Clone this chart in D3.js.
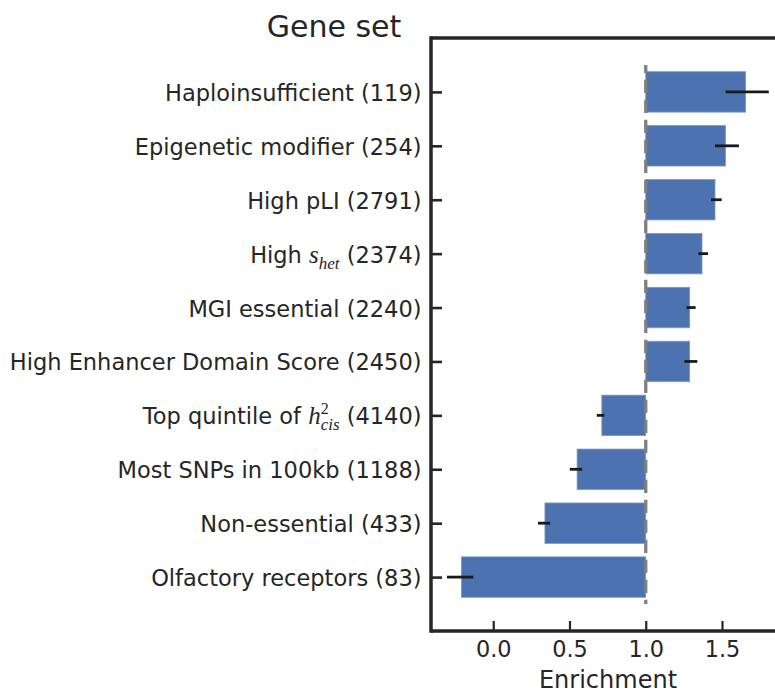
<!DOCTYPE html>
<html>
<head>
<meta charset="utf-8">
<script src="https://cdn.jsdelivr.net/npm/d3@7/dist/d3.min.js"></script>
<style>
  html, body { margin: 0; padding: 0; background: #fff; }
  svg { display: block; font-family: "DejaVu Sans", sans-serif; }
</style>
</head>
<body>
<svg id="chart" width="775" height="692"></svg>
<script>
// ---- data ----
const setNames = ["Haploinsufficient", "Epigenetic modifier", "High pLI", "High $s_{het}$",
  "MGI essential", "High Enhancer Domain Score", "Top quintile of $h^2_{cis}$",
  "Most SNPs in 100kb", "Non-essential", "Olfactory receptors"];
const setSizes = [119, 254, 2791, 2374, 2240, 2450, 4140, 1188, 433, 83];
const enrichment = [1.655, 1.523, 1.454, 1.369, 1.288, 1.288, 0.712, 0.550, 0.339, -0.209];
const ciLow  = [1.523, 1.454, 1.428, 1.345, 1.267, 1.253, 0.679, 0.502, 0.293, -0.303];
const ciHigh = [1.807, 1.611, 1.498, 1.408, 1.327, 1.338, 0.729, 0.583, 0.373, -0.131];
const xTicks = [0, 0.5, 1.0, 1.5];
const xTickLabels = ["0.0", "0.5", "1.0", "1.5"];
const refValue = 1.0;

// ---- layout ----
const svg = d3.select("#chart");
const pLeft = 431, pRight = 785, pTop = 38, pBottom = 631;
const ink = "#262626";

const x = d3.scaleLinear().domain([-0.408, 1.913]).range([pLeft, pRight]);
const y = d3.scaleLinear().domain([-1, setNames.length]).range([pTop, pBottom]);
const barH = (y(1) - y(0)) * 0.75;

const rows = setNames.map((n, i) => ({i, name: n, size: setSizes[i], v: enrichment[i], lo: ciLow[i], hi: ciHigh[i]}));

// bars
svg.append("g").selectAll("rect").data(rows).join("rect")
  .attr("x", d => x(Math.min(refValue, d.v)))
  .attr("width", d => Math.abs(x(d.v) - x(refValue)))
  .attr("y", d => y(d.i) - barH / 2)
  .attr("height", barH)
  .attr("fill", "#4c72b0")
  .attr("stroke", "#7d98c8")
  .attr("stroke-width", 0.8);

// dashed reference line
svg.append("line")
  .attr("x1", x(refValue)).attr("x2", x(refValue))
  .attr("y1", y(-0.5)).attr("y2", y(setNames.length - 0.5))
  .attr("stroke", "#808080").attr("stroke-width", 3.3)
  .attr("stroke-dasharray", "13.3,6.7").attr("stroke-dashoffset", 5.3);

// error bars
svg.append("g").selectAll("line").data(rows).join("line")
  .attr("x1", d => x(d.lo)).attr("x2", d => x(d.hi))
  .attr("y1", d => y(d.i)).attr("y2", d => y(d.i))
  .attr("stroke", "#1a1a1a").attr("stroke-width", 2.8);

// axes (ticks pointing inward)
const xAxis = d3.axisBottom(x).tickValues(xTicks).tickFormat((d, i) => xTickLabels[i])
  .tickSizeInner(-10).tickSizeOuter(0);
const gx = svg.append("g").attr("transform", `translate(0,${pBottom})`).call(xAxis);
gx.select(".domain").remove();
gx.selectAll(".tick line").attr("stroke", ink).attr("stroke-width", 2.2);
gx.selectAll(".tick text").attr("fill", ink).attr("font-size", 22.4)
  .attr("font-family", "DejaVu Sans").attr("dy", null).attr("y", 26);

const yAxis = d3.axisLeft(y).tickValues(d3.range(setNames.length)).tickFormat(() => "")
  .tickSizeInner(-11).tickSizeOuter(0);
const gy = svg.append("g").attr("transform", `translate(${pLeft},0)`).call(yAxis);
gy.select(".domain").remove();
gy.selectAll(".tick line").attr("stroke", ink).attr("stroke-width", 2.6);
gy.selectAll(".tick text").remove();

// y tick labels with simple math rendering
const labelG = svg.append("g").attr("fill", ink).attr("font-size", 22.5);
rows.forEach(d => {
  const t = labelG.append("text")
    .attr("x", pLeft - 9.5)
    .attr("y", y(d.i))
    .attr("dy", "0.4em")
    .attr("text-anchor", "end");
  const m = d.name.match(/^(.*?)\$(.*?)\$(.*)$/);
  if (!m) {
    t.text(`${d.name} (${d.size})`);
    return;
  }
  t.append("tspan").text(m[1]);
  const math = m[2];
  const mathFont = "Liberation Serif";
  const base = math.match(/^([a-z])/)[1];
  const sup = (math.match(/\^(\w|\{[^}]*\})/) || [])[1];
  const sub = (math.match(/_(\w|\{[^}]*\})/) || [])[1];
  const clean = s => s ? s.replace(/[{}]/g, "") : s;
  t.append("tspan").attr("font-family", mathFont).attr("font-style", "italic")
    .attr("font-size", 25).text(base);
  let dyAcc = 0;
  if (sup) {
    t.append("tspan").attr("font-family", mathFont).attr("font-size", 16)
      .attr("dy", -10).text(clean(sup));
    dyAcc -= 10;
  }
  if (sub) {
    const dx = sup ? -8 : 0;
    t.append("tspan").attr("font-family", mathFont).attr("font-style", "italic")
      .attr("font-size", 17).attr("dx", dx).attr("dy", 6 - dyAcc).text(clean(sub));
    dyAcc = 6;
  }
  t.append("tspan").attr("dy", -dyAcc).text(`${m[3]} (${d.size})`);
});

// spines
svg.append("line").attr("x1", pLeft).attr("x2", pLeft).attr("y1", pTop - 1.75).attr("y2", pBottom + 1.75)
  .attr("stroke", ink).attr("stroke-width", 3.5);
svg.append("line").attr("x1", pLeft).attr("x2", pRight).attr("y1", pTop).attr("y2", pTop)
  .attr("stroke", ink).attr("stroke-width", 3.5);
svg.append("line").attr("x1", pLeft).attr("x2", pRight).attr("y1", pBottom).attr("y2", pBottom)
  .attr("stroke", ink).attr("stroke-width", 3.5);

// labels
svg.append("text").attr("x", (pLeft + pRight) / 2).attr("y", 688)
  .attr("text-anchor", "middle").attr("fill", ink).attr("font-size", 24).text("Enrichment");
svg.append("text").attr("x", 334).attr("y", 37)
  .attr("text-anchor", "middle").attr("fill", ink).attr("font-size", 30).text("Gene set");
</script>
</body>
</html>
